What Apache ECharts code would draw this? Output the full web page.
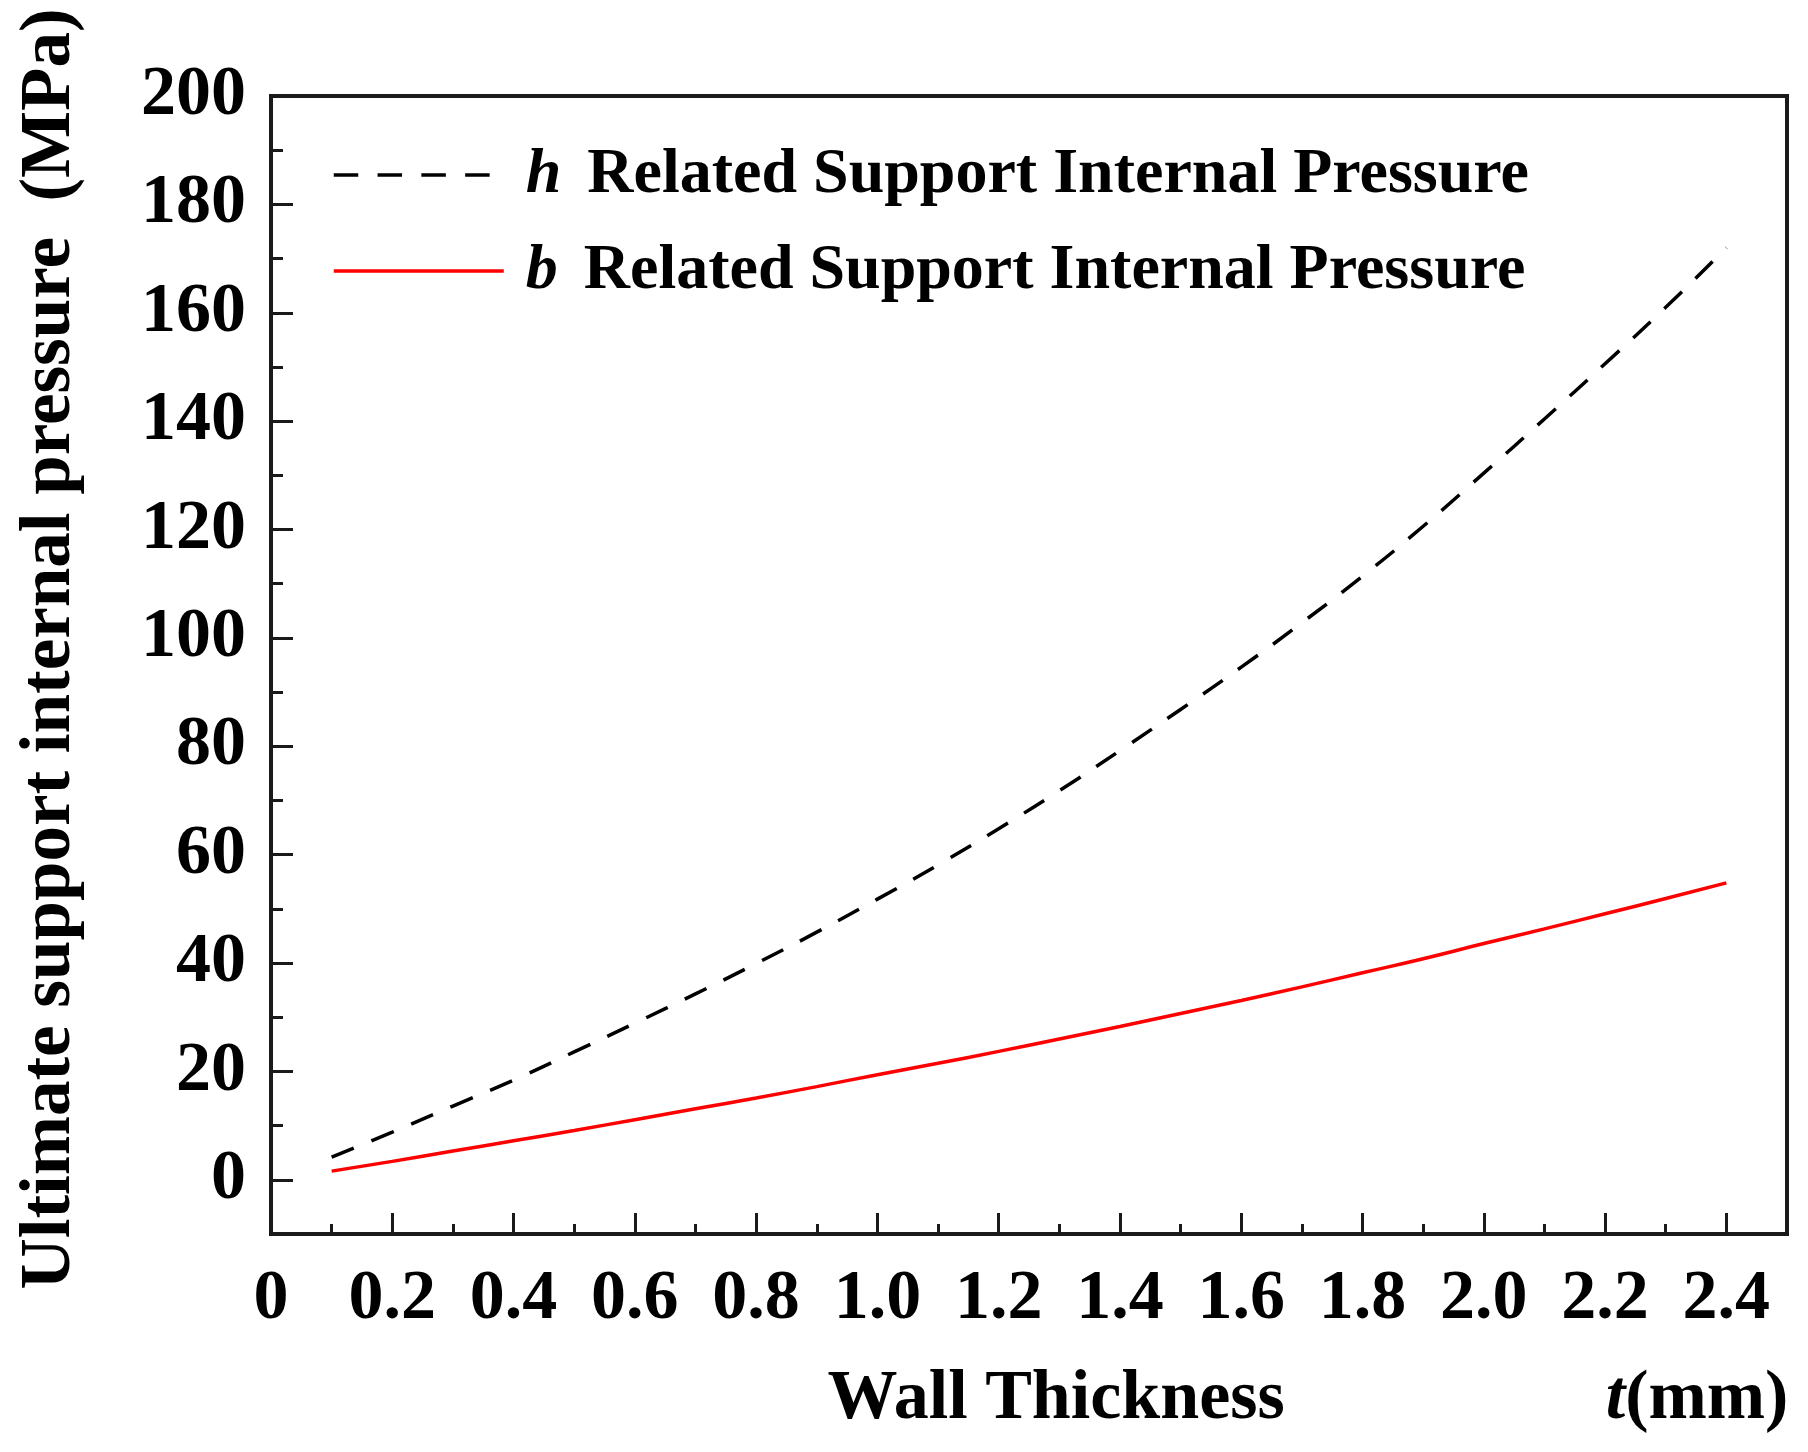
<!DOCTYPE html>
<html>
<head>
<meta charset="utf-8">
<script src="https://cdn.jsdelivr.net/npm/echarts@6/dist/echarts.min.js"></script>
<style>html,body{margin:0;padding:0;background:#fff}#chart{width:1808px;height:1452px}</style>
</head>
<body>
<div id="chart"></div>
<script>
// Wall thickness t (mm)
const tValues = [0.1,0.2,0.3,0.4,0.5,0.6,0.7,0.8,0.9,1.0,1.1,1.2,1.3,1.4,1.5,1.6,1.7,1.8,1.9,2.0,2.1,2.2,2.3,2.4];
// h related support internal pressure (MPa)
const hPressure = [4.2,8.8,13.6,18.4,23.6,28.9,34.3,39.9,45.7,51.8,58.1,64.8,71.8,79.2,86.8,94.6,102.8,111.4,120.6,130.4,140.4,150.6,161.0,172.0];
// b related support internal pressure (MPa)
const bPressure = [1.6,3.4,5.3,7.2,9.1,11.1,13.1,15.1,17.2,19.4,21.5,23.7,26.0,28.3,30.7,33.1,35.6,38.2,40.8,43.6,46.3,49.1,51.9,54.8];
// Tick values
const xLabelValues = [0,0.2,0.4,0.6,0.8,1.0,1.2,1.4,1.6,1.8,2.0,2.2,2.4];
const xMinorValues = [0.1,0.3,0.5,0.7,0.9,1.1,1.3,1.5,1.7,1.9,2.1,2.3];
const yLabelValues = [0,20,40,60,80,100,120,140,160,180,200];
const yMinorValues = [10,30,50,70,90,110,130,150,170,190];
const seriesNames = ['h Related Support Internal Pressure','b Related Support Internal Pressure'];

const FONT = 'Liberation Serif';
const AX = '#1a1a1a';

const chart = echarts.init(document.getElementById('chart'), null, {renderer:'canvas'});
const hData = tValues.map((t,i)=>[t,hPressure[i]]);
const bData = tValues.map((t,i)=>[t,bPressure[i]]);

const option = {
  backgroundColor:'#fff',
  animation:false,
  grid:{left:271,right:21,top:96,bottom:218,containLabel:false,outerBoundsMode:'none',
        show:true,borderColor:AX,borderWidth:4,backgroundColor:'transparent'},
  legend:{
    left:327, top:138, orient:'vertical', itemWidth:170, itemHeight:4, itemGap:32,
    itemStyle:{opacity:0},
    data:[
      {name:seriesNames[0], lineStyle:{type:[24.5,19.3],width:3.5}},
      {name:seriesNames[1], lineStyle:{type:'solid',width:3.5}}
    ],
    formatter:function(name){ return '{i|'+name.charAt(0)+'}{n|'+name.slice(2)+'}'; },
    textStyle:{
      color:'#000', fontFamily:FONT, fontWeight:'bold', fontSize:64, lineHeight:64,
      rich:{
        i:{fontFamily:FONT,fontStyle:'italic',fontWeight:'bold',fontSize:64,lineHeight:64,color:'#000',padding:[0,26,0,17]},
        n:{fontFamily:FONT,fontWeight:'bold',fontSize:64,lineHeight:64,color:'#000'}
      }
    }
  },
  xAxis:[{
    type:'value', min:0, max:2.5, interval:0.1, gridIndex:0, position:'bottom',
    axisLine:{show:true,onZero:false,lineStyle:{color:AX,width:4}},
    axisTick:{show:true,inside:true,length:21,customValues:xLabelValues,lineStyle:{color:AX,width:3}},
    axisLabel:{show:true,customValues:xLabelValues,margin:31,color:'#000',fontFamily:FONT,fontWeight:'bold',fontSize:70,
      hideOverlap:false,
      formatter:function(v){ return v===0?'0':v.toFixed(1); }},
    splitLine:{show:false},
    name:'{n|Wall Thickness}{sp| }{i|t}{n|(mm)}',
    nameLocation:'middle', nameGap:131,
    nameTextStyle:{
      verticalAlign:'top', padding:[0,0,0,558],
      fontFamily:FONT,fontWeight:'bold',fontSize:70,color:'#000',lineHeight:70,
      rich:{
        n:{fontFamily:FONT,fontWeight:'bold',fontSize:70,lineHeight:70,color:'#000'},
        i:{fontFamily:FONT,fontStyle:'italic',fontWeight:'bold',fontSize:70,lineHeight:70,color:'#000'},
        sp:{width:321,fontSize:70,lineHeight:70}
      }
    }
  },{
    type:'value', min:0, max:2.5, interval:0.1, gridIndex:0, position:'bottom',
    axisLine:{show:false,onZero:false},
    axisTick:{show:true,inside:true,length:10,customValues:xMinorValues,lineStyle:{color:AX,width:3}},
    axisLabel:{show:false},
    splitLine:{show:false}
  }],
  yAxis:[{
    type:'value', min:-10, max:200, interval:10, gridIndex:0, position:'left',
    axisLine:{show:true,onZero:false,lineStyle:{color:AX,width:4}},
    axisTick:{show:true,inside:true,length:22,customValues:yLabelValues,lineStyle:{color:AX,width:3}},
    axisLabel:{show:true,customValues:yLabelValues,margin:25,color:'#000',fontFamily:FONT,fontWeight:'bold',fontSize:70},
    splitLine:{show:false},
    name:'Ultimate support internal pressure  (MPa)',
    nameLocation:'middle', nameGap:185,
    nameTextStyle:{fontFamily:FONT,fontWeight:'bold',fontSize:71,color:'#000',padding:[0,0,0,32]}
  },{
    type:'value', min:-10, max:200, interval:10, gridIndex:0, position:'left',
    axisLine:{show:false,onZero:false},
    axisTick:{show:true,inside:true,length:12,customValues:yMinorValues,lineStyle:{color:AX,width:3}},
    axisLabel:{show:false},
    splitLine:{show:false}
  }],
  series:[{
    name:seriesNames[0], type:'line', xAxisIndex:0, yAxisIndex:0, data:hData,
    showSymbol:false, symbol:'none', smooth:true,
    lineStyle:{color:'#000',width:3.5,type:[24,19]},
    itemStyle:{color:'#000'}
  },{
    name:seriesNames[1], type:'line', xAxisIndex:0, yAxisIndex:0, data:bData,
    showSymbol:false, symbol:'none', smooth:true,
    lineStyle:{color:'#ff0000',width:3.5,type:'solid'},
    itemStyle:{color:'#ff0000'}
  }]
};
chart.setOption(option);
</script>
</body>
</html>
